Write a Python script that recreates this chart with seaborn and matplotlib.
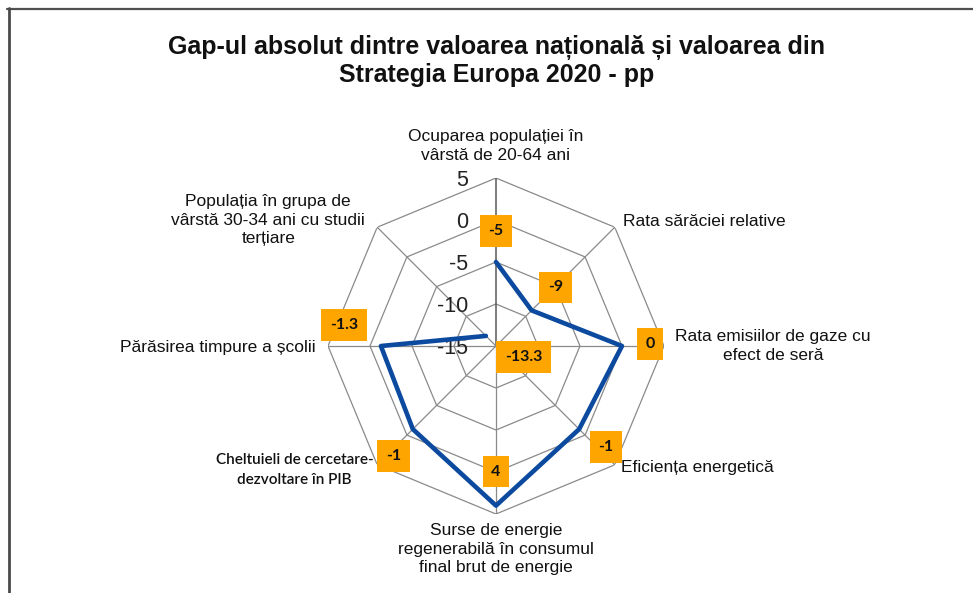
import numpy as np
import pandas as pd
import matplotlib.pyplot as plt
import seaborn as sns
from matplotlib.lines import Line2D

# Data
categories = [
    "Ocuparea populației în\nvârstă de 20-64 ani",
    "Rata sărăciei relative",
    "Rata emisiilor de gaze cu\nefect de seră",
    "Eficiența energetică",
    "Surse de energie\nregenerabilă în consumul\nfinal brut de energie",
    "Cheltuieli de cercetare-\ndezvoltare în PIB",
    "Părăsirea timpure a școlii",
    "Populația în grupa de\nvârstă 30-34 ani cu studii\nterțiare",
]
values = [-5, -9, 0, -1, 4, -1, -1.3, -13.3]
value_labels = ["-5", "-9", "0", "-1", "4", "-1", "-1.3", "-13.3"]
r_ticks = [-15, -10, -5, 0, 5]
title = "Gap-ul absolut dintre valoarea națională și valoarea din\nStrategia Europa 2020 - pp"

sns.set_theme(style="white")
plt.rcParams['font.family'] = ['Liberation Sans', 'DejaVu Sans']

n = len(categories)
theta = np.arange(n) * 2 * np.pi / n
rmin, rmax = r_ticks[0], r_ticks[-1]

fig = plt.figure(figsize=(9.73, 5.93), dpi=100)
ax = fig.add_axes([0.3371, 0.1332, 0.3453, 0.5666], projection='polar')
ax.set_theta_offset(np.pi / 2)
ax.set_theta_direction(-1)
ax.set_ylim(rmin, rmax)
ax.grid(False)
ax.set_xticks([])
ax.set_yticks([])
ax.spines['polar'].set_visible(False)
ax.patch.set_alpha(0)

# octagonal grid rings
ring_theta = np.append(theta, theta[0])
for rv in r_ticks[1:]:
    ax.plot(ring_theta, [rv] * (n + 1), color='#8a8a8a', lw=0.9, zorder=1)
# spokes
for i, t in enumerate(theta):
    col = '#5a5a5a' if i == 0 else '#8a8a8a'
    ax.plot([t, t], [rmin, rmax], color=col, lw=1.1 if i == 0 else 0.9, zorder=1)

# radial tick labels
for rv in r_ticks:
    ax.annotate(str(rv), xy=(0, rv), xytext=(-28, -2), textcoords='offset pixels',
                ha='right', va='center', fontsize=15.5, color='#222222')

# data line
df = pd.DataFrame({'theta': np.append(theta, theta[0]), 'value': values + values[:1]})
sns.lineplot(data=df, x='theta', y='value', sort=False, ax=ax, color='#0B4A9E',
             lw=3.3, zorder=3)
ax.set_xlabel('')
ax.set_ylabel('')

# category labels
cat_offsets = [(0, 32), (8, 6), (11, 0), (6, -3), (0, -9), (-4, -5), (-12, -1), (-109, 7)]
cat_align = [('center', 'center'), ('left', 'center'), ('left', 'center'), ('left', 'center'),
             ('center', 'top'), ('right', 'center'), ('right', 'center'), ('center', 'center')]
for i in range(n):
    ha, va = cat_align[i]
    kw = dict(fontsize=12.5, color='#111111', linespacing=1.3)
    if i == 5:
        kw = dict(fontsize=11, color='#111111', family=['Lato', 'DejaVu Sans'],
                  fontweight='semibold', linespacing=1.55)
    ax.annotate(categories[i], xy=(theta[i], rmax), xytext=cat_offsets[i],
                textcoords='offset pixels', ha=ha, va=va, multialignment='center',
                annotation_clip=False, **kw)

# value labels in orange boxes
val_offsets = [(0, 31), (24, 23), (28, 2), (27, -18), (0, 34), (-19, -27), (-37, 21), (38, -21)]
for i in range(n):
    ax.annotate(value_labels[i], xy=(theta[i], values[i]), xytext=val_offsets[i],
                textcoords='offset pixels', ha='center', va='center', fontsize=11.5,
                fontweight='bold', color='#111111', zorder=5,
                family=['Lato', 'DejaVu Sans'],
                bbox=dict(boxstyle='square,pad=0.55', fc='#FFA500', ec='none'))

fig.text(0.51, 1 - 61 / 593, title, ha='center', va='center', fontsize=18,
         fontweight='bold', linespacing=1.15, color='#111111')

# chart frame (top and left edges visible)
fig.add_artist(Line2D([7 / 973, 1], [1 - 8.5 / 593] * 2, transform=fig.transFigure,
                      color='#505050', lw=1.6))
fig.add_artist(Line2D([8.5 / 973] * 2, [0, 1 - 8 / 593], transform=fig.transFigure,
                      color='#4a4a4a', lw=2.0))

fig.savefig('out.png', dpi=100)
